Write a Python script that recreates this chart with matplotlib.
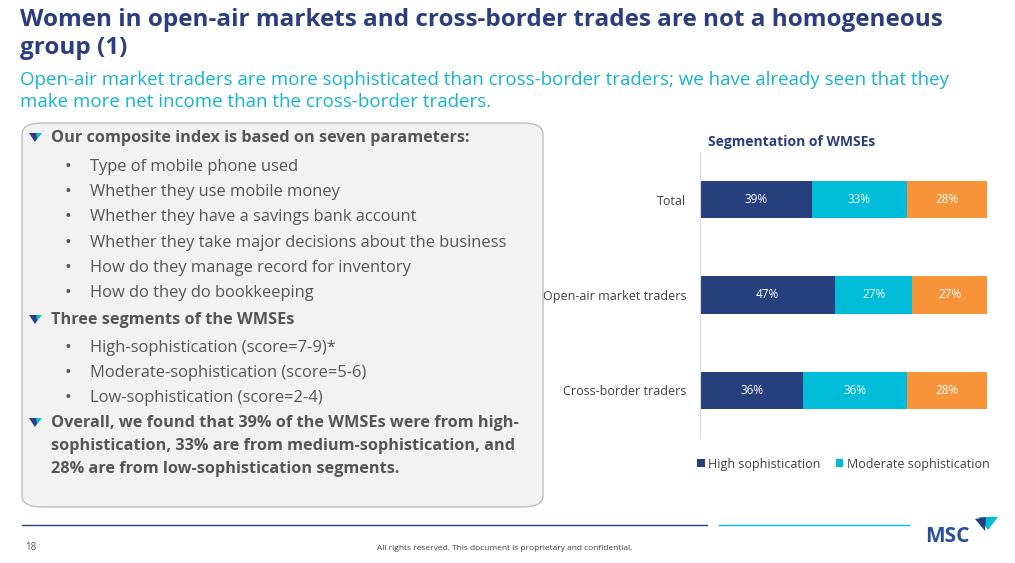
import matplotlib
matplotlib.use("Agg")
import matplotlib.pyplot as plt
import numpy as np
from matplotlib.patches import FancyBboxPatch, Polygon

W, H = 1015, 563

categories = ["Total", "Open-air market traders", "Cross-border traders"]
high = [39, 47, 36]
moderate = [33, 27, 36]
low = [28, 27, 28]
legend_labels = ["High sophistication", "Moderate sophistication"]

NAVY = "#283F7E"
CYAN = "#00BCD9"
ORANGE = "#F7943A"
TEXT = "#555555"

plt.rcParams["font.family"] = ["Open Sans", "DejaVu Sans"]

fig = plt.figure(figsize=(W / 100, H / 100), dpi=100)


def px(x, y):
    return x / W, 1 - y / H


def t(x, y, s, **kw):
    fx, fy = px(x, y)
    fig.text(fx, fy, s, **kw)


# title block
t(20, 20, "Women in open-air markets and cross-border trades are not a homogeneous",
  fontsize=17.5, fontweight="bold", color="#2B3F7E", va="center")
t(20, 48, "group (1)", fontsize=17.5, fontweight="bold", color="#2B3F7E", va="center")
t(20, 80, "Open-air market traders are more sophisticated than cross-border traders; we have already seen that they",
  fontsize=13.5, color="#14B5D0", va="center")
t(20, 102, "make more net income than the cross-border traders.", fontsize=13.5, color="#14B5D0", va="center")

# left text box
bx0, by0 = px(22, 507)
bx1, by1 = px(543, 123)
fig.patches.append(FancyBboxPatch((bx0, by0), bx1 - bx0, by1 - by0,
                                  boxstyle="round,pad=0,rounding_size=0.02",
                                  transform=fig.transFigure, facecolor="#F2F2F2",
                                  edgecolor="#BFBFBF", linewidth=1))


def arrow_bullet(x, y):
    pts = [px(x - 6, y - 5), px(x + 6, y - 5), px(x, y + 4)]
    fig.patches.append(Polygon(pts, closed=True, transform=fig.transFigure,
                               facecolor=NAVY, edgecolor="none"))
    pts2 = [px(x + 1, y - 5), px(x + 7, y - 5), px(x + 2, y + 1)]
    fig.patches.append(Polygon(pts2, closed=True, transform=fig.transFigure,
                               facecolor=CYAN, edgecolor="none"))


lines = [
    ("h", 138, "Our composite index is based on seven parameters:"),
    ("b", 167, "Type of mobile phone used"),
    ("b", 192, "Whether they use mobile money"),
    ("b", 217, "Whether they have a savings bank account"),
    ("b", 243, "Whether they take major decisions about the business"),
    ("b", 268, "How do they manage record for inventory"),
    ("b", 293, "How do they do bookkeeping"),
    ("h", 320, "Three segments of the WMSEs"),
    ("b", 348, "High-sophistication (score=7-9)*"),
    ("b", 373, "Moderate-sophistication (score=5-6)"),
    ("b", 398, "Low-sophistication (score=2-4)"),
    ("h", 423, "Overall, we found that 39% of the WMSEs were from high-"),
    ("c", 446, "sophistication, 33% are from medium-sophistication, and"),
    ("c", 469, "28% are from low-sophistication segments."),
]
for kind, y, s in lines:
    if kind == "h":
        arrow_bullet(35, y)
        t(51, y, s, fontsize=11.7, fontweight="bold", color=TEXT, va="center")
    elif kind == "c":
        t(51, y, s, fontsize=11.7, fontweight="bold", color=TEXT, va="center")
    else:
        t(65, y, "•", fontsize=13, color=TEXT, va="center")
        t(90, y, s, fontsize=11.9, color=TEXT, va="center")

# chart
ax0x, ax0y = px(700, 438)
ax1x, ax1y = px(987, 152)
ax = fig.add_axes([ax0x, ax0y, ax1x - ax0x, ax1y - ax0y])
y = np.arange(len(categories))
hv = np.array(high)
mv = np.array(moderate)
lv = np.array(low)
bh = 0.39
b1 = ax.barh(y, hv, height=bh, color=NAVY, label=legend_labels[0])
b2 = ax.barh(y, mv, left=hv, height=bh, color=CYAN, label=legend_labels[1])
b3 = ax.barh(y, lv, left=hv + mv, height=bh, color=ORANGE)
for bars in (b1, b2, b3):
    ax.bar_label(bars, labels=[f"{v:.0f}%" for v in bars.datavalues],
                 label_type="center", color="white", fontsize=8.5)
ax.set_xlim(0, 100)
ax.set_ylim(2.5, -0.5)
ax.set_yticks(y)
ax.set_yticklabels(categories, fontsize=9, color="#404040")
ax.tick_params(axis="y", length=0, pad=10)
ax.set_xticks([])
for side in ("top", "right", "bottom"):
    ax.spines[side].set_visible(False)
ax.spines["left"].set_color("#D9D9D9")
ax.set_facecolor("none")
ax.legend(loc="upper center", bbox_to_anchor=(0.5, -0.03), ncol=2, frameon=False,
          fontsize=9, handlelength=0.6, handleheight=0.6, handletextpad=0.3,
          columnspacing=1.2, labelcolor="#404040")
t(792, 142, "Segmentation of WMSEs", fontsize=10, fontweight="bold", color="#2B3F7E",
  va="center", ha="center")

# footer
fig.add_artist(plt.Line2D([px(22, 0)[0], px(707, 0)[0]], [px(0, 525)[1]] * 2,
                          color="#2B3F7E", linewidth=1, transform=fig.transFigure))
fig.add_artist(plt.Line2D([px(719, 0)[0], px(909, 0)[0]], [px(0, 525)[1]] * 2,
                          color=CYAN, linewidth=1, transform=fig.transFigure))
t(25, 548, "18", fontsize=7, color=TEXT, va="center")
t(505, 548, "All rights reserved. This document is proprietary and confidential.",
  fontsize=6, color="#404040", va="center", ha="center")
t(925, 537, "MSC", fontsize=15, fontweight="bold", color="#2B4FA0", va="center")
fig.patches.append(Polygon([px(979, 517), px(998, 517), px(988, 530)], closed=True,
                           transform=fig.transFigure, facecolor=CYAN, edgecolor="none"))
fig.patches.append(Polygon([px(975, 519), px(986, 517), px(985, 531)], closed=True,
                           transform=fig.transFigure, facecolor=NAVY, edgecolor="none"))

fig.savefig("out.png", dpi=100, facecolor="white")
